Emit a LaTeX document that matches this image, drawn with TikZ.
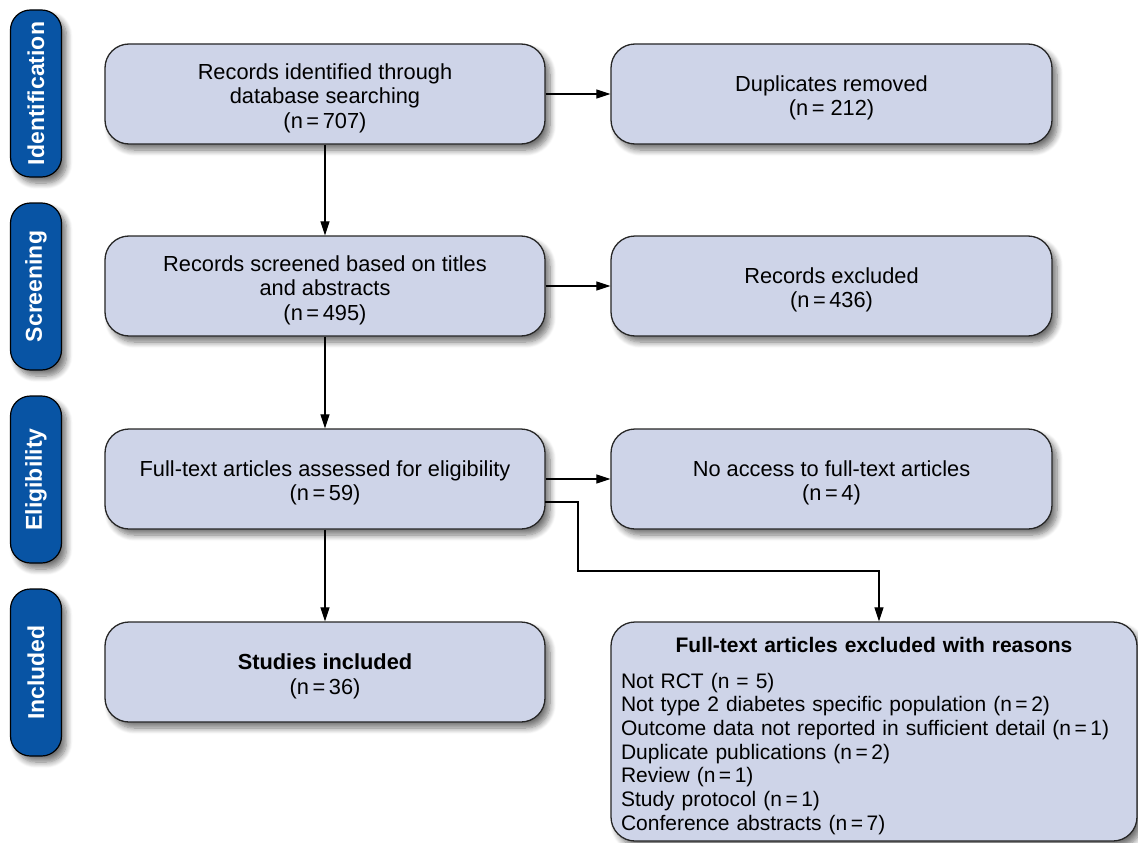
\documentclass[tikz,border=0pt]{standalone}
\usepackage{fontspec}
\setmainfont{Liberation Sans}
\usetikzlibrary{arrows.meta,shadows.blur}
\definecolor{boxfill}{RGB}{206,212,232}
\definecolor{barfill}{RGB}{8,84,164}
\newcommand\topstrut{\rule{0pt}{24pt}}
\tikzset{
  stagebox/.style={draw=black!85, line width=1.3pt, fill=boxfill, rounded corners=24pt,
    minimum width=440pt, minimum height=100pt, align=center, inner sep=0pt,
    font=\fontsize{21.8}{24.5}\selectfont,
    blur shadow={shadow xshift=5pt, shadow yshift=-6pt, shadow blur steps=8, shadow blur radius=6pt, shadow opacity=55}},
  sidebar/.style={draw=black, line width=1.2pt, fill=barfill, rounded corners=20pt,
    minimum width=51pt, minimum height=167pt, inner sep=0pt,
    blur shadow={shadow xshift=5pt, shadow yshift=-6pt, shadow blur steps=8, shadow blur radius=6pt, shadow opacity=55}},
  bartext/.style={text=white, font=\fontsize{23}{24}\selectfont\bfseries, rotate=90},
  arr/.style={line width=1.2pt, -{Triangle[length=14pt,width=9pt]}},
  ln/.style={line width=1.2pt}
}
\begin{document}
\begin{tikzpicture}[x=1pt,y=-1pt]
\useasboundingbox (0,0) rectangle (1138,843);
% side bars
\node[sidebar] (b1) at (36,93.5) {};
\node[bartext] at (b1.center) {Identification};
\node[sidebar] (b2) at (36,286.5) {};
\node[bartext] at (b2.center) {Screening};
\node[sidebar] (b3) at (36,479.5) {};
\node[bartext] at (b3.center) {Eligibility};
\node[sidebar] (b4) at (36,672.5) {};
\node[bartext] at (b4.center) {Included};
% left column
\node[stagebox] (l1) at (325,94) {\topstrut Records identified through\\database searching\\(n\,=\,707)};
\node[stagebox] (l2) at (325,286) {\topstrut Records screened based on titles\\and abstracts\\(n\,=\,495)};
\node[stagebox] (l3) at (325,479) {\topstrut Full-text articles assessed for eligibility\\(n\,=\,59)};
\node[stagebox] (l4) at (325,672) {\topstrut\textbf{Studies included}\\(n\,=\,36)};
% right column
\node[stagebox, minimum width=441pt] (r1) at (831.5,94) {\topstrut Duplicates removed\\(n\,=\ 212)};
\node[stagebox, minimum width=441pt] (r2) at (831.5,286) {\topstrut Records excluded\\(n\,=\,436)};
\node[stagebox, minimum width=441pt] (r3) at (831.5,479) {\topstrut No access to full-text articles\\(n\,=\,4)};
\node[stagebox, minimum width=526pt, minimum height=219pt, text width=506pt, align=left,
  font=\fontsize{21}{23.7}\selectfont] (r4) at (874,731.5)
  {\centering\topstrut\textbf{Full-text articles excluded with reasons}\par\vspace{12pt}\raggedright
   Not RCT (n = 5)\\
   Not type 2 diabetes specific population (n\,=\,2)\\
   Outcome data not reported in sufficient detail (n\,=\,1)\\
   Duplicate publications (n\,=\,2)\\
   Review (n\,=\,1)\\
   Study protocol (n\,=\,1)\\
   Conference abstracts (n\,=\,7)\par};
% connectors
\draw[arr] (l1.south) -- (l2.north);
\draw[arr] (l2.south) -- (l3.north);
\draw[arr] (l3.south) -- (l4.north);
\draw[arr] (l1.east) -- (r1.west);
\draw[arr] (l2.east) -- (r2.west);
\draw[arr] (l3.east) -- (r3.west);
\coordinate (c1) at (545,502);
\draw[arr] (c1) -| (578,571) -| (r4.north -| 879,0);
\end{tikzpicture}
\end{document}
